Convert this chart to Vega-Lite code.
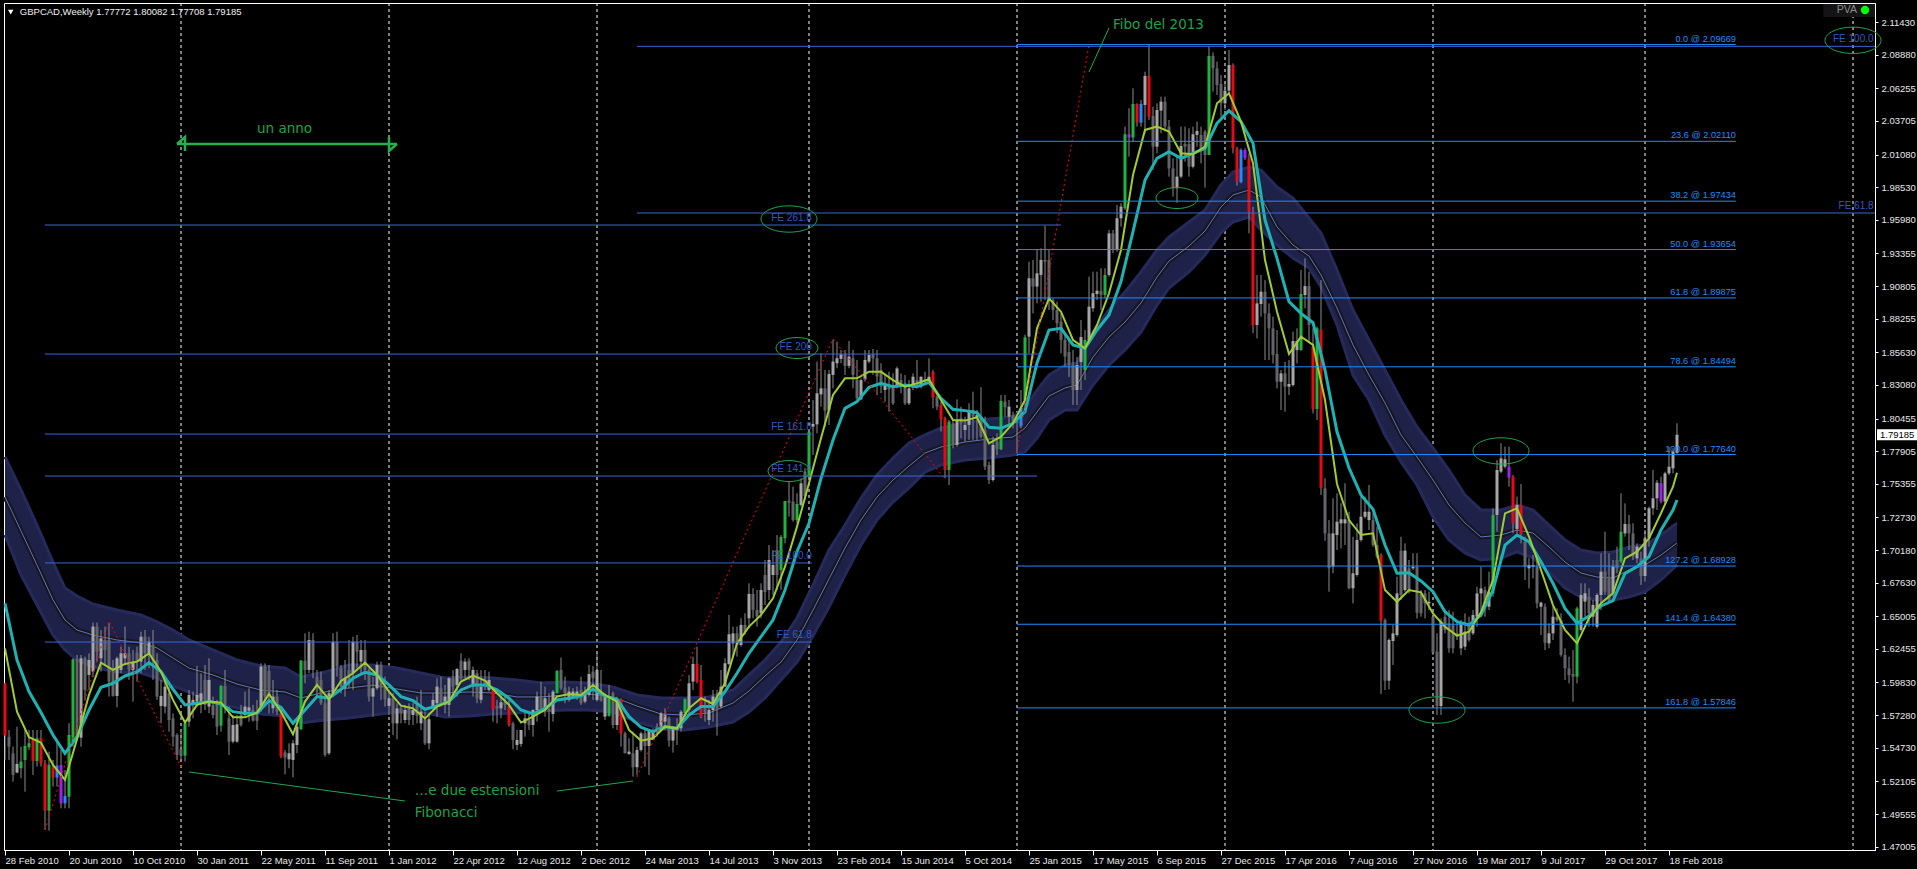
{"$schema":"https://vega.github.io/schema/vega-lite/v6.json","width":1871,"height":847,"autosize":"none","padding":{"left":4,"top":3,"right":42,"bottom":19},"background":"#000000","config":{"view":{"stroke":"#ffffff","strokeWidth":1}},
"datasets":{
"candles":[
{"t":"2010-02-28","k":"r","o":1.5977,"h":1.5982,"l":1.5378,"c":1.5568},{"t":"2010-03-07","k":"dn","o":1.556,"h":1.5612,"l":1.5378,"c":1.5482},{"t":"2010-03-14","k":"dn","o":1.543,"h":1.5482,"l":1.5209,"c":1.5261},{"t":"2010-03-21","k":"up","o":1.5279,"h":1.5638,"l":1.5274,"c":1.5347},{"t":"2010-03-28","k":"g","o":1.5313,"h":1.5482,"l":1.5235,"c":1.5365},{"t":"2010-04-04","k":"g","o":1.5378,"h":1.5625,"l":1.513,"c":1.5487},{"t":"2010-04-11","k":"g","o":1.5477,"h":1.5612,"l":1.5456,"c":1.5508},{"t":"2010-04-18","k":"r","o":1.5534,"h":1.5612,"l":1.5261,"c":1.537},{"t":"2010-04-25","k":"g","o":1.537,"h":1.5612,"l":1.5326,"c":1.5547},{"t":"2010-05-02","k":"r","o":1.5547,"h":1.5612,"l":1.5326,"c":1.5352},{"t":"2010-05-09","k":"r","o":1.5352,"h":1.5378,"l":1.4831,"c":1.4982},{"t":"2010-05-16","k":"g","o":1.4982,"h":1.5443,"l":1.4826,"c":1.5339},{"t":"2010-05-23","k":"r","o":1.5326,"h":1.5378,"l":1.517,"c":1.524},{"t":"2010-05-30","k":"b","o":1.5334,"h":1.5521,"l":1.517,"c":1.524},{"t":"2010-06-06","k":"p","o":1.5339,"h":1.5456,"l":1.5,"c":1.5039},{"t":"2010-06-13","k":"b","o":1.5097,"h":1.53,"l":1.5,"c":1.5039},{"t":"2010-06-20","k":"g","o":1.5091,"h":1.5664,"l":1.5,"c":1.5573},{"t":"2010-06-27","k":"g","o":1.5508,"h":1.6172,"l":1.5482,"c":1.6164},{"t":"2010-07-04","k":"dn","o":1.6167,"h":1.6198,"l":1.5534,"c":1.556},{"t":"2010-07-11","k":"up","o":1.5552,"h":1.6198,"l":1.5482,"c":1.6172},{"t":"2010-07-18","k":"dn","o":1.6172,"h":1.6185,"l":1.5847,"c":1.5925},{"t":"2010-07-25","k":"up","o":1.6042,"h":1.6211,"l":1.5925,"c":1.6159},{"t":"2010-08-01","k":"up","o":1.6068,"h":1.6451,"l":1.6024,"c":1.642},{"t":"2010-08-08","k":"dn","o":1.642,"h":1.6451,"l":1.6146,"c":1.6224},{"t":"2010-08-15","k":"up","o":1.6172,"h":1.6393,"l":1.6068,"c":1.6328},{"t":"2010-08-22","k":"dn","o":1.6315,"h":1.642,"l":1.6112,"c":1.6237},{"t":"2010-08-29","k":"dn","o":1.6315,"h":1.6446,"l":1.5873,"c":1.599},{"t":"2010-09-05","k":"dn","o":1.6081,"h":1.6159,"l":1.5873,"c":1.5878},{"t":"2010-09-12","k":"up","o":1.5878,"h":1.6185,"l":1.5789,"c":1.6172},{"t":"2010-09-19","k":"up","o":1.6081,"h":1.6263,"l":1.6055,"c":1.6211},{"t":"2010-09-26","k":"up","o":1.6172,"h":1.642,"l":1.612,"c":1.6211},{"t":"2010-10-03","k":"dn","o":1.6211,"h":1.6263,"l":1.6003,"c":1.6081},{"t":"2010-10-10","k":"up","o":1.6081,"h":1.6237,"l":1.5834,"c":1.6146},{"t":"2010-10-17","k":"dn","o":1.6216,"h":1.6263,"l":1.599,"c":1.6146},{"t":"2010-10-24","k":"up","o":1.6146,"h":1.638,"l":1.6055,"c":1.6341},{"t":"2010-10-31","k":"dn","o":1.6341,"h":1.6393,"l":1.6081,"c":1.6211},{"t":"2010-11-07","k":"up","o":1.6198,"h":1.6341,"l":1.6094,"c":1.6302},{"t":"2010-11-14","k":"dn","o":1.6276,"h":1.6393,"l":1.6003,"c":1.6159},{"t":"2010-11-21","k":"dn","o":1.6159,"h":1.6211,"l":1.5847,"c":1.5873},{"t":"2010-11-28","k":"up","o":1.58,"h":1.6003,"l":1.5664,"c":1.5878},{"t":"2010-12-05","k":"up","o":1.5795,"h":1.6016,"l":1.5742,"c":1.5951},{"t":"2010-12-12","k":"dn","o":1.5899,"h":1.5951,"l":1.5599,"c":1.569},{"t":"2010-12-19","k":"dn","o":1.5703,"h":1.5742,"l":1.5482,"c":1.556},{"t":"2010-12-26","k":"dn","o":1.5573,"h":1.5586,"l":1.5378,"c":1.5417},{"t":"2011-01-02","k":"dn","o":1.5461,"h":1.5599,"l":1.5365,"c":1.5412},{"t":"2011-01-09","k":"g","o":1.5412,"h":1.5677,"l":1.5365,"c":1.5664},{"t":"2011-01-16","k":"up","o":1.5677,"h":1.5925,"l":1.5638,"c":1.5886},{"t":"2011-01-23","k":"up","o":1.5821,"h":1.5912,"l":1.5703,"c":1.5847},{"t":"2011-01-30","k":"up","o":1.5834,"h":1.6112,"l":1.5795,"c":1.5886},{"t":"2011-02-06","k":"up","o":1.5834,"h":1.6055,"l":1.5742,"c":1.5899},{"t":"2011-02-13","k":"dn","o":1.6003,"h":1.612,"l":1.5768,"c":1.5808},{"t":"2011-02-20","k":"up","o":1.5795,"h":1.6172,"l":1.5742,"c":1.6003},{"t":"2011-02-27","k":"dn","o":1.5808,"h":1.5873,"l":1.5703,"c":1.5729},{"t":"2011-03-06","k":"dn","o":1.5821,"h":1.5847,"l":1.5573,"c":1.5638},{"t":"2011-03-13","k":"g","o":1.5646,"h":1.5964,"l":1.5599,"c":1.5956},{"t":"2011-03-20","k":"dn","o":1.5956,"h":1.6081,"l":1.5742,"c":1.5808},{"t":"2011-03-27","k":"dn","o":1.5703,"h":1.5795,"l":1.5417,"c":1.5521},{"t":"2011-04-03","k":"up","o":1.5521,"h":1.5729,"l":1.5508,"c":1.5651},{"t":"2011-04-10","k":"up","o":1.5521,"h":1.5729,"l":1.5513,"c":1.5656},{"t":"2011-04-17","k":"dn","o":1.5729,"h":1.5808,"l":1.5638,"c":1.5651},{"t":"2011-04-24","k":"up","o":1.5729,"h":1.5912,"l":1.5716,"c":1.5795},{"t":"2011-05-01","k":"up","o":1.5763,"h":1.5938,"l":1.5677,"c":1.5789},{"t":"2011-05-08","k":"dn","o":1.5768,"h":1.5808,"l":1.5677,"c":1.5685},{"t":"2011-05-15","k":"dn","o":1.5729,"h":1.5847,"l":1.5612,"c":1.5683},{"t":"2011-05-22","k":"up","o":1.5795,"h":1.6133,"l":1.5755,"c":1.6107},{"t":"2011-05-29","k":"dn","o":1.6107,"h":1.6133,"l":1.5795,"c":1.5873},{"t":"2011-06-05","k":"dn","o":1.6073,"h":1.612,"l":1.5742,"c":1.5886},{"t":"2011-06-12","k":"up","o":1.5782,"h":1.6003,"l":1.5742,"c":1.5873},{"t":"2011-06-19","k":"dn","o":1.5873,"h":1.5925,"l":1.5729,"c":1.5755},{"t":"2011-06-26","k":"r","o":1.5742,"h":1.5768,"l":1.5391,"c":1.5404},{"t":"2011-07-03","k":"dn","o":1.5438,"h":1.5456,"l":1.5266,"c":1.5396},{"t":"2011-07-10","k":"up","o":1.5383,"h":1.5508,"l":1.5313,"c":1.543},{"t":"2011-07-17","k":"up","o":1.5378,"h":1.5534,"l":1.5242,"c":1.5508},{"t":"2011-07-24","k":"up","o":1.5495,"h":1.5664,"l":1.543,"c":1.5638},{"t":"2011-07-31","k":"g","o":1.5617,"h":1.6159,"l":1.5612,"c":1.6154},{"t":"2011-08-07","k":"dn","o":1.6154,"h":1.6367,"l":1.5977,"c":1.6081},{"t":"2011-08-14","k":"up","o":1.6081,"h":1.638,"l":1.6055,"c":1.6315},{"t":"2011-08-21","k":"dn","o":1.6315,"h":1.6367,"l":1.6016,"c":1.6081},{"t":"2011-08-28","k":"dn","o":1.6029,"h":1.6081,"l":1.5873,"c":1.5964},{"t":"2011-09-04","k":"dn","o":1.6003,"h":1.6068,"l":1.5808,"c":1.5821},{"t":"2011-09-11","k":"dn","o":1.5821,"h":1.5873,"l":1.5404,"c":1.5417},{"t":"2011-09-18","k":"up","o":1.543,"h":1.5925,"l":1.5417,"c":1.5899},{"t":"2011-09-25","k":"up","o":1.5899,"h":1.6367,"l":1.5873,"c":1.6302},{"t":"2011-10-02","k":"dn","o":1.6302,"h":1.638,"l":1.6029,"c":1.6107},{"t":"2011-10-09","k":"dn","o":1.6094,"h":1.612,"l":1.5899,"c":1.5951},{"t":"2011-10-16","k":"up","o":1.5938,"h":1.6159,"l":1.5873,"c":1.6016},{"t":"2011-10-23","k":"dn","o":1.6081,"h":1.6315,"l":1.5938,"c":1.5977},{"t":"2011-10-30","k":"up","o":1.6055,"h":1.6341,"l":1.5925,"c":1.6302},{"t":"2011-11-06","k":"dn","o":1.6302,"h":1.6354,"l":1.6094,"c":1.6224},{"t":"2011-11-13","k":"up","o":1.6146,"h":1.6315,"l":1.6055,"c":1.6237},{"t":"2011-11-20","k":"dn","o":1.6237,"h":1.6315,"l":1.6003,"c":1.6081},{"t":"2011-11-27","k":"dn","o":1.6081,"h":1.6094,"l":1.5834,"c":1.5873},{"t":"2011-12-04","k":"up","o":1.5873,"h":1.6029,"l":1.5716,"c":1.5938},{"t":"2011-12-11","k":"up","o":1.5938,"h":1.6146,"l":1.5925,"c":1.612},{"t":"2011-12-18","k":"dn","o":1.612,"h":1.6146,"l":1.5847,"c":1.5938},{"t":"2011-12-25","k":"dn","o":1.5951,"h":1.6029,"l":1.5795,"c":1.5852},{"t":"2012-01-01","k":"up","o":1.58,"h":1.5925,"l":1.5729,"c":1.586},{"t":"2012-01-08","k":"dn","o":1.586,"h":1.5899,"l":1.5573,"c":1.5664},{"t":"2012-01-15","k":"up","o":1.5664,"h":1.5821,"l":1.5539,"c":1.5781},{"t":"2012-01-22","k":"dn","o":1.5781,"h":1.5795,"l":1.5664,"c":1.5742},{"t":"2012-01-29","k":"up","o":1.569,"h":1.5808,"l":1.5664,"c":1.5768},{"t":"2012-02-05","k":"dn","o":1.5795,"h":1.5821,"l":1.5651,"c":1.569},{"t":"2012-02-12","k":"up","o":1.5729,"h":1.5821,"l":1.5651,"c":1.5768},{"t":"2012-02-19","k":"dn","o":1.5808,"h":1.5873,"l":1.5664,"c":1.5722},
{"t":"2012-02-26","k":"up","o":1.5664,"h":1.5925,"l":1.5612,"c":1.5755},{"t":"2012-03-04","k":"dn","o":1.5696,"h":1.5755,"l":1.5495,"c":1.5508},{"t":"2012-03-11","k":"up","o":1.5508,"h":1.5742,"l":1.5461,"c":1.5696},{"t":"2012-03-18","k":"up","o":1.5795,"h":1.5899,"l":1.5755,"c":1.5847},{"t":"2012-03-25","k":"up","o":1.5821,"h":1.6016,"l":1.5716,"c":1.5951},{"t":"2012-04-01","k":"dn","o":1.5938,"h":1.6029,"l":1.5795,"c":1.5808},{"t":"2012-04-08","k":"up","o":1.5808,"h":1.5964,"l":1.5742,"c":1.5873},{"t":"2012-04-15","k":"up","o":1.5808,"h":1.6024,"l":1.5716,"c":1.6016},{"t":"2012-04-22","k":"dn","o":1.6016,"h":1.6081,"l":1.5873,"c":1.5951},{"t":"2012-04-29","k":"up","o":1.5964,"h":1.6094,"l":1.5873,"c":1.6089},{"t":"2012-05-06","k":"dn","o":1.6154,"h":1.6211,"l":1.6003,"c":1.6016},{"t":"2012-05-13","k":"up","o":1.6081,"h":1.6172,"l":1.6016,"c":1.6146},{"t":"2012-05-20","k":"dn","o":1.6154,"h":1.6172,"l":1.6003,"c":1.6081},{"t":"2012-05-27","k":"up","o":1.5951,"h":1.6107,"l":1.5873,"c":1.6081},{"t":"2012-06-03","k":"dn","o":1.6055,"h":1.6081,"l":1.5821,"c":1.586},{"t":"2012-06-10","k":"up","o":1.5847,"h":1.6081,"l":1.5821,"c":1.5951},{"t":"2012-06-17","k":"dn","o":1.6003,"h":1.6081,"l":1.5925,"c":1.5951},{"t":"2012-06-24","k":"up","o":1.5925,"h":1.6068,"l":1.5912,"c":1.6003},{"t":"2012-07-01","k":"r","o":1.5925,"h":1.5938,"l":1.5677,"c":1.5774},{"t":"2012-07-08","k":"dn","o":1.58,"h":1.5847,"l":1.5664,"c":1.5779},{"t":"2012-07-15","k":"up","o":1.5781,"h":1.5899,"l":1.5703,"c":1.5828},{"t":"2012-07-22","k":"dn","o":1.5828,"h":1.5873,"l":1.5768,"c":1.5808},{"t":"2012-07-29","k":"r","o":1.5795,"h":1.5873,"l":1.5638,"c":1.5651},{"t":"2012-08-05","k":"dn","o":1.5664,"h":1.5677,"l":1.5461,"c":1.5534},{"t":"2012-08-12","k":"up","o":1.5495,"h":1.5612,"l":1.5456,"c":1.5534},{"t":"2012-08-19","k":"up","o":1.5503,"h":1.5612,"l":1.5482,"c":1.5612},{"t":"2012-08-26","k":"up","o":1.5664,"h":1.5768,"l":1.556,"c":1.5703},{"t":"2012-09-02","k":"dn","o":1.569,"h":1.5742,"l":1.5612,"c":1.5651},{"t":"2012-09-09","k":"up","o":1.5651,"h":1.5774,"l":1.556,"c":1.5768},{"t":"2012-09-16","k":"up","o":1.5768,"h":1.5912,"l":1.5677,"c":1.5873},{"t":"2012-09-23","k":"dn","o":1.5873,"h":1.599,"l":1.5768,"c":1.5781},{"t":"2012-09-30","k":"up","o":1.5781,"h":1.5951,"l":1.5716,"c":1.586},{"t":"2012-10-07","k":"dn","o":1.5776,"h":1.5899,"l":1.5599,"c":1.5755},{"t":"2012-10-14","k":"up","o":1.5737,"h":1.5925,"l":1.5677,"c":1.5912},{"t":"2012-10-21","k":"g","o":1.5899,"h":1.6081,"l":1.5899,"c":1.6073},{"t":"2012-10-28","k":"dn","o":1.6081,"h":1.6177,"l":1.5925,"c":1.5938},{"t":"2012-11-04","k":"dn","o":1.5943,"h":1.6029,"l":1.5821,"c":1.5899},{"t":"2012-11-11","k":"up","o":1.5847,"h":1.5951,"l":1.5834,"c":1.5912},{"t":"2012-11-18","k":"up","o":1.5873,"h":1.5938,"l":1.586,"c":1.5912},{"t":"2012-11-25","k":"up","o":1.586,"h":1.5951,"l":1.5847,"c":1.5912},{"t":"2012-12-02","k":"dn","o":1.5925,"h":1.6029,"l":1.5808,"c":1.5821},{"t":"2012-12-09","k":"up","o":1.5834,"h":1.5951,"l":1.5821,"c":1.5886},{"t":"2012-12-16","k":"up","o":1.5886,"h":1.612,"l":1.5873,"c":1.605},{"t":"2012-12-23","k":"dn","o":1.6068,"h":1.6112,"l":1.5847,"c":1.6016},{"t":"2012-12-30","k":"up","o":1.5847,"h":1.6211,"l":1.5834,"c":1.6081},{"t":"2013-01-06","k":"dn","o":1.5899,"h":1.6081,"l":1.5834,"c":1.5841},{"t":"2013-01-13","k":"up","o":1.5716,"h":1.5899,"l":1.569,"c":1.5886},{"t":"2013-01-20","k":"g","o":1.5722,"h":1.5964,"l":1.5716,"c":1.586},{"t":"2013-01-27","k":"dn","o":1.5899,"h":1.5912,"l":1.5625,"c":1.5651},{"t":"2013-02-03","k":"up","o":1.5651,"h":1.5873,"l":1.5612,"c":1.5847},{"t":"2013-02-10","k":"r","o":1.5852,"h":1.586,"l":1.5482,"c":1.5586},{"t":"2013-02-17","k":"dn","o":1.5586,"h":1.5599,"l":1.543,"c":1.543},{"t":"2013-02-24","k":"up","o":1.5425,"h":1.5547,"l":1.5417,"c":1.5443},{"t":"2013-03-03","k":"dn","o":1.543,"h":1.5599,"l":1.5248,"c":1.5321},{"t":"2013-03-10","k":"up","o":1.5321,"h":1.5482,"l":1.5261,"c":1.5456},{"t":"2013-03-17","k":"up","o":1.5456,"h":1.5599,"l":1.5443,"c":1.5586},{"t":"2013-03-24","k":"dn","o":1.5586,"h":1.5612,"l":1.5326,"c":1.5487},{"t":"2013-03-31","k":"up","o":1.5487,"h":1.5612,"l":1.5261,"c":1.5612},{"t":"2013-04-07","k":"up","o":1.5534,"h":1.5625,"l":1.5534,"c":1.5599},{"t":"2013-04-14","k":"dn","o":1.5638,"h":1.5664,"l":1.5560,"c":1.5599},{"t":"2013-04-21","k":"up","o":1.5638,"h":1.5755,"l":1.5612,"c":1.5742},{"t":"2013-04-28","k":"up","o":1.5677,"h":1.5781,"l":1.5612,"c":1.5729},{"t":"2013-05-05","k":"dn","o":1.5703,"h":1.5716,"l":1.5482,"c":1.5529},{"t":"2013-05-12","k":"up","o":1.5529,"h":1.5638,"l":1.5435,"c":1.5625},{"t":"2013-05-19","k":"up","o":1.5612,"h":1.5703,"l":1.5495,"c":1.5625},{"t":"2013-05-26","k":"up","o":1.5625,"h":1.5768,"l":1.5599,"c":1.5755},{"t":"2013-06-02","k":"g","o":1.5742,"h":1.586,"l":1.5716,"c":1.5852},{"t":"2013-06-09","k":"up","o":1.5768,"h":1.6042,"l":1.5729,"c":1.5977},{"t":"2013-06-16","k":"up","o":1.599,"h":1.6185,"l":1.5925,"c":1.6128},{"t":"2013-06-23","k":"r","o":1.6128,"h":1.6263,"l":1.5977,"c":1.599},{"t":"2013-06-30","k":"r","o":1.6003,"h":1.612,"l":1.5703,"c":1.5716},{"t":"2013-07-07","k":"dn","o":1.5781,"h":1.5873,"l":1.5677,"c":1.5748},{"t":"2013-07-14","k":"up","o":1.569,"h":1.5847,"l":1.5651,"c":1.5768},{"t":"2013-07-21","k":"up","o":1.5768,"h":1.5925,"l":1.5677,"c":1.5873},{"t":"2013-07-28","k":"dn","o":1.5873,"h":1.5925,"l":1.5568,"c":1.5768},{"t":"2013-08-04","k":"up","o":1.5795,"h":1.6081,"l":1.5781,"c":1.5951},{"t":"2013-08-11","k":"up","o":1.5951,"h":1.6172,"l":1.5951,"c":1.6133},{"t":"2013-08-18","k":"up","o":1.6128,"h":1.6511,"l":1.612,"c":1.636},{"t":"2013-08-25","k":"up","o":1.6289,"h":1.642,"l":1.6185,"c":1.6367},{"t":"2013-09-01","k":"dn","o":1.6367,"h":1.642,"l":1.6185,"c":1.6276},{"t":"2013-09-08","k":"up","o":1.6276,"h":1.6485,"l":1.6263,"c":1.6433},{"t":"2013-09-15","k":"dn","o":1.6433,"h":1.6524,"l":1.6355,"c":1.638},{"t":"2013-09-22","k":"up","o":1.6485,"h":1.6758,"l":1.6406,"c":1.6675},{"t":"2013-09-29","k":"dn","o":1.6675,"h":1.6719,"l":1.6485,"c":1.655},{"t":"2013-10-06","k":"dn","o":1.655,"h":1.6706,"l":1.642,"c":1.6498},{"t":"2013-10-13","k":"up","o":1.6524,"h":1.6758,"l":1.6485,"c":1.6706},{"t":"2013-10-20","k":"dn","o":1.6823,"h":1.694,"l":1.6588,"c":1.669},{"t":"2013-10-27","k":"up","o":1.6706,"h":1.7057,"l":1.6628,"c":1.694},{"t":"2013-11-03","k":"up","o":1.6823,"h":1.7018,"l":1.6667,"c":1.6901},{"t":"2013-11-10","k":"dn","o":1.7018,"h":1.7135,"l":1.6706,"c":1.6823},{"t":"2013-11-17","k":"g","o":1.6862,"h":1.7135,"l":1.6706,"c":1.712},{"t":"2013-11-24","k":"g","o":1.711,"h":1.7401,"l":1.707,"c":1.7401},{"t":"2013-12-01","k":"dn","o":1.7404,"h":1.7552,"l":1.7279,"c":1.7388},{"t":"2013-12-08","k":"dn","o":1.7396,"h":1.7513,"l":1.724,"c":1.7253},{"t":"2013-12-15","k":"g","o":1.7253,"h":1.7461,"l":1.7227,"c":1.7378},{"t":"2013-12-22","k":"up","o":1.737,"h":1.7578,"l":1.7357,"c":1.7539},{"t":"2013-12-29","k":"dn","o":1.763,"h":1.7656,"l":1.7409,"c":1.744},{"t":"2014-01-05","k":"g","o":1.7591,"h":1.7956,"l":1.7565,"c":1.7943},{"t":"2014-01-12","k":"up","o":1.7982,"h":1.819,"l":1.7761,"c":1.8003},{"t":"2014-01-19","k":"up","o":1.8,"h":1.849,"l":1.793,"c":1.8242},{"t":"2014-01-26","k":"up","o":1.8234,"h":1.8555,"l":1.8138,"c":1.8281},{"t":"2014-02-02","k":"dn","o":1.8281,"h":1.8425,"l":1.7982,"c":1.8107},{"t":"2014-02-09","k":"up","o":1.8112,"h":1.8425,"l":1.7995,"c":1.8393},{"t":"2014-02-16","k":"up","o":1.8386,"h":1.8659,"l":1.8281,"c":1.849},{"t":"2014-02-23","k":"up","o":1.8477,"h":1.8646,"l":1.8438,"c":1.8516},{"t":"2014-03-02","k":"up","o":1.8511,"h":1.8581,"l":1.8477,"c":1.8547},{"t":"2014-03-09","k":"dn","o":1.8547,"h":1.8581,"l":1.8386,"c":1.8456},{"t":"2014-03-16","k":"up","o":1.8456,"h":1.8651,"l":1.8438,"c":1.8529},{"t":"2014-03-23","k":"dn","o":1.8516,"h":1.8581,"l":1.8281,"c":1.8386},{"t":"2014-03-30","k":"dn","o":1.8346,"h":1.8503,"l":1.819,"c":1.8203},{"t":"2014-04-06","k":"up","o":1.8195,"h":1.8359,"l":1.819,"c":1.8346},{"t":"2014-04-13","k":"up","o":1.8352,"h":1.8581,"l":1.8333,"c":1.8503},{"t":"2014-04-20","k":"up","o":1.849,"h":1.8581,"l":1.8477,"c":1.8542},{"t":"2014-04-27","k":"dn","o":1.8547,"h":1.8589,"l":1.8386,"c":1.8516},{"t":"2014-05-04","k":"dn","o":1.8516,"h":1.8581,"l":1.8229,"c":1.8373},{"t":"2014-05-11","k":"dn","o":1.8425,"h":1.8477,"l":1.8242,"c":1.8294},{"t":"2014-05-18","k":"up","o":1.8268,"h":1.8398,"l":1.8177,"c":1.8307},{"t":"2014-05-25","k":"dn","o":1.8294,"h":1.8411,"l":1.8099,"c":1.8273},{"t":"2014-06-01","k":"dn","o":1.8307,"h":1.8398,"l":1.8151,"c":1.8164},{"t":"2014-06-08","k":"up","o":1.8294,"h":1.8451,"l":1.8281,"c":1.8437},{"t":"2014-06-15","k":"dn","o":1.8346,"h":1.8398,"l":1.8242,"c":1.8289},{"t":"2014-06-22","k":"dn","o":1.8294,"h":1.8385,"l":1.8151,"c":1.8164},{"t":"2014-06-29","k":"up","o":1.8164,"h":1.8346,"l":1.8151,"c":1.8281},{"t":"2014-07-06","k":"up","o":1.8289,"h":1.8398,"l":1.8268,"c":1.8372},{"t":"2014-07-13","k":"dn","o":1.8346,"h":1.8503,"l":1.8281,"c":1.8307},{"t":"2014-07-20","k":"up","o":1.8294,"h":1.8372,"l":1.8281,"c":1.8372},{"t":"2014-07-27","k":"dn","o":1.8352,"h":1.8411,"l":1.8307,"c":1.8333},{"t":"2014-08-03","k":"up","o":1.8346,"h":1.8516,"l":1.8333,"c":1.8372},{"t":"2014-08-10","k":"r","o":1.8411,"h":1.8424,"l":1.8125,"c":1.8208},{"t":"2014-08-17","k":"dn","o":1.8216,"h":1.8229,"l":1.8112,"c":1.8138},{"t":"2014-08-24","k":"r","o":1.8151,"h":1.8177,"l":1.7943,"c":1.8042},{"t":"2014-08-31","k":"r","o":1.8047,"h":1.806,"l":1.7578,"c":1.7643},{"t":"2014-09-07","k":"g","o":1.7643,"h":1.8034,"l":1.7526,"c":1.8021},{"t":"2014-09-14","k":"dn","o":1.8008,"h":1.8034,"l":1.7813,"c":1.7839},{"t":"2014-09-21","k":"up","o":1.7839,"h":1.8195,"l":1.7826,"c":1.8034},{"t":"2014-09-28","k":"dn","o":1.8047,"h":1.8138,"l":1.7891,"c":1.8008},{"t":"2014-10-05","k":"up","o":1.7956,"h":1.8060,"l":1.7865,"c":1.7995},{"t":"2014-10-12","k":"up","o":1.7995,"h":1.8164,"l":1.7878,"c":1.8112},{"t":"2014-10-19","k":"dn","o":1.8112,"h":1.8255,"l":1.7878,"c":1.806},{"t":"2014-10-26","k":"up","o":1.8047,"h":1.8112,"l":1.7878,"c":1.8073},{"t":"2014-11-02","k":"dn","o":1.8060,"h":1.8289,"l":1.789,"c":1.7904},{"t":"2014-11-09","k":"dn","o":1.7956,"h":1.806,"l":1.7643,"c":1.7669},{"t":"2014-11-16","k":"dn","o":1.7682,"h":1.7708,"l":1.7534,"c":1.7565},{"t":"2014-11-23","k":"up","o":1.7565,"h":1.7904,"l":1.7552,"c":1.7839},{"t":"2014-11-30","k":"dn","o":1.7865,"h":1.793,"l":1.776,"c":1.7805},{"t":"2014-12-07","k":"g","o":1.7805,"h":1.8229,"l":1.7799,"c":1.8182},{"t":"2014-12-14","k":"dn","o":1.8177,"h":1.8229,"l":1.8060,"c":1.8133},{"t":"2014-12-21","k":"up","o":1.806,"h":1.819,"l":1.7982,"c":1.8138},{"t":"2014-12-28","k":"dn","o":1.8073,"h":1.8099,"l":1.7969,"c":1.8021},{"t":"2015-01-04","k":"dn","o":1.8029,"h":1.8047,"l":1.7773,"c":1.8008},{"t":"2015-01-11","k":"b","o":1.8125,"h":1.8268,"l":1.7969,"c":1.7982},{"t":"2015-01-18","k":"g","o":1.819,"h":1.87,"l":1.8086,"c":1.868},
{"t":"2015-01-25","k":"up","o":1.8685,"h":1.9271,"l":1.8555,"c":1.9141},{"t":"2015-02-01","k":"dn","o":1.9141,"h":1.9284,"l":1.8867,"c":1.9076},{"t":"2015-02-08","k":"up","o":1.9076,"h":1.9362,"l":1.8945,"c":1.918},{"t":"2015-02-15","k":"up","o":1.9167,"h":1.9375,"l":1.8958,"c":1.9284},{"t":"2015-02-22","k":"dn","o":1.9284,"h":1.9552,"l":1.8971,"c":1.9271},{"t":"2015-03-01","k":"dn","o":1.9284,"h":1.9362,"l":1.8893,"c":1.8971},{"t":"2015-03-08","k":"dn","o":1.8971,"h":1.8984,"l":1.8815,"c":1.8893},{"t":"2015-03-15","k":"dn","o":1.8893,"h":1.8958,"l":1.8711,"c":1.8789},{"t":"2015-03-22","k":"dn","o":1.8802,"h":1.8867,"l":1.8555,"c":1.8659},{"t":"2015-03-29","k":"dn","o":1.8659,"h":1.8711,"l":1.8451,"c":1.8529},{"t":"2015-04-05","k":"dn","o":1.8565,"h":1.8659,"l":1.837,"c":1.8463},{"t":"2015-04-12","k":"dn","o":1.8463,"h":1.8581,"l":1.8151,"c":1.8268},{"t":"2015-04-19","k":"up","o":1.8268,"h":1.8526,"l":1.8151,"c":1.8463},{"t":"2015-04-26","k":"up","o":1.8487,"h":1.8815,"l":1.8268,"c":1.8682},{"t":"2015-05-03","k":"g","o":1.8424,"h":1.8737,"l":1.8346,"c":1.8659},{"t":"2015-05-10","k":"up","o":1.8659,"h":1.9154,"l":1.8633,"c":1.8919},{"t":"2015-05-17","k":"up","o":1.8906,"h":1.9193,"l":1.888,"c":1.9024},{"t":"2015-05-24","k":"up","o":1.9018,"h":1.9193,"l":1.8971,"c":1.9044},{"t":"2015-05-31","k":"dn","o":1.9044,"h":1.9219,"l":1.8893,"c":1.9011},{"t":"2015-06-07","k":"g","o":1.9011,"h":1.9219,"l":1.8984,"c":1.9167},{"t":"2015-06-14","k":"up","o":1.9167,"h":1.9518,"l":1.9154,"c":1.9492},{"t":"2015-06-21","k":"dn","o":1.9492,"h":1.9518,"l":1.9336,"c":1.9362},{"t":"2015-06-28","k":"up","o":1.9362,"h":1.9714,"l":1.9349,"c":1.961},{"t":"2015-07-05","k":"up","o":1.961,"h":1.9727,"l":1.9544,"c":1.9701},{"t":"2015-07-12","k":"g","o":1.9688,"h":2.0326,"l":1.9675,"c":2.0266},{"t":"2015-07-19","k":"p","o":2.0266,"h":2.0469,"l":2.0091,"c":2.024},{"t":"2015-07-26","k":"g","o":2.024,"h":2.0625,"l":2.0208,"c":2.0503},{"t":"2015-08-02","k":"r","o":2.0503,"h":2.0508,"l":2.0326,"c":2.0357},{"t":"2015-08-09","k":"b","o":2.0503,"h":2.0534,"l":2.0326,"c":2.0357},{"t":"2015-08-16","k":"up","o":2.0495,"h":2.0755,"l":2.0274,"c":2.0722},{"t":"2015-08-23","k":"r","o":2.0722,"h":2.0964,"l":2.0378,"c":2.0404},{"t":"2015-08-30","k":"dn","o":2.0409,"h":2.0482,"l":1.9987,"c":2.0169},{"t":"2015-09-06","k":"up","o":2.0169,"h":2.0508,"l":2.0117,"c":2.0456},{"t":"2015-09-13","k":"up","o":2.0451,"h":2.056,"l":2.0274,"c":2.0521},{"t":"2015-09-20","k":"dn","o":2.0521,"h":2.056,"l":2.0287,"c":2.0326},{"t":"2015-09-27","k":"dn","o":2.0326,"h":2.0378,"l":1.9935,"c":1.9999},{"t":"2015-10-04","k":"dn","o":1.9999,"h":2.0078,"l":1.9779,"c":1.9844},{"t":"2015-10-11","k":"up","o":1.9844,"h":2.0091,"l":1.9732,"c":1.9935},{"t":"2015-10-18","k":"up","o":1.9935,"h":2.0326,"l":1.9922,"c":2.0175},{"t":"2015-10-25","k":"dn","o":2.019,"h":2.0326,"l":2.0052,"c":2.0169},{"t":"2015-11-01","k":"dn","o":2.019,"h":2.0313,"l":1.9935,"c":2.0013},{"t":"2015-11-08","k":"up","o":2.0013,"h":2.0326,"l":2.0,"c":2.0266},{"t":"2015-11-15","k":"up","o":2.0261,"h":2.0365,"l":2.0169,"c":2.0292},{"t":"2015-11-22","k":"dn","o":2.0261,"h":2.0326,"l":2.0039,"c":2.0143},{"t":"2015-11-29","k":"dn","o":2.0287,"h":2.03,"l":1.9849,"c":2.0104},{"t":"2015-12-06","k":"g","o":2.0104,"h":2.0951,"l":2.0104,"c":2.0878},{"t":"2015-12-13","k":"dn","o":2.0878,"h":2.0906,"l":2.0599,"c":2.0781},{"t":"2015-12-20","k":"dn","o":2.0781,"h":2.0833,"l":2.0573,"c":2.0651},{"t":"2015-12-27","k":"dn","o":2.0659,"h":2.0729,"l":2.0404,"c":2.0508},{"t":"2016-01-03","k":"up","o":2.0508,"h":2.0677,"l":2.0456,"c":2.0607},{"t":"2016-01-10","k":"up","o":2.0607,"h":2.0925,"l":2.0586,"c":2.0807},{"t":"2016-01-17","k":"r","o":2.0807,"h":2.082,"l":2.0117,"c":2.0156},{"t":"2016-01-24","k":"r","o":2.0156,"h":2.0169,"l":1.9865,"c":1.9896},{"t":"2016-01-31","k":"b","o":2.0143,"h":2.0156,"l":1.9883,"c":1.9891},{"t":"2016-02-07","k":"p","o":2.0143,"h":2.0156,"l":2.0065,"c":2.0078},{"t":"2016-02-14","k":"r","o":2.0078,"h":2.0117,"l":1.9492,"c":1.9662},{"t":"2016-02-21","k":"r","o":1.9659,"h":1.97,"l":1.8711,"c":1.8776},{"t":"2016-02-28","k":"up","o":1.8776,"h":1.9166,"l":1.8672,"c":1.8945},{"t":"2016-03-06","k":"up","o":1.894,"h":1.9166,"l":1.8841,"c":1.9036},{"t":"2016-03-13","k":"dn","o":1.9036,"h":1.9127,"l":1.8502,"c":1.8867},{"t":"2016-03-20","k":"dn","o":1.8867,"h":1.8945,"l":1.8502,"c":1.875},{"t":"2016-03-27","k":"dn","o":1.875,"h":1.8841,"l":1.8476,"c":1.8541},{"t":"2016-04-03","k":"dn","o":1.8549,"h":1.8737,"l":1.8281,"c":1.8333},{"t":"2016-04-10","k":"up","o":1.8333,"h":1.8424,"l":1.8112,"c":1.8398},{"t":"2016-04-17","k":"dn","o":1.8398,"h":1.8489,"l":1.8099,"c":1.8294},{"t":"2016-04-24","k":"up","o":1.8294,"h":1.8502,"l":1.8229,"c":1.8315},{"t":"2016-05-01","k":"up","o":1.8307,"h":1.8724,"l":1.8294,"c":1.8651},{"t":"2016-05-08","k":"up","o":1.858,"h":1.875,"l":1.8476,"c":1.8651},{"t":"2016-05-15","k":"g","o":1.858,"h":1.9205,"l":1.8575,"c":1.9018},{"t":"2016-05-22","k":"up","o":1.901,"h":1.9297,"l":1.8906,"c":1.908},{"t":"2016-05-29","k":"dn","o":1.908,"h":1.9192,"l":1.8633,"c":1.8776},{"t":"2016-06-05","k":"r","o":1.8607,"h":1.875,"l":1.8086,"c":1.812},{"t":"2016-06-12","k":"g","o":1.812,"h":1.8763,"l":1.8034,"c":1.875},{"t":"2016-06-19","k":"r","o":1.8737,"h":1.9127,"l":1.7448,"c":1.7503},{"t":"2016-06-26","k":"dn","o":1.75,"h":1.7578,"l":1.7091,"c":1.7148},{"t":"2016-07-03","k":"dn","o":1.7148,"h":1.7252,"l":1.6692,"c":1.6875},{"t":"2016-07-10","k":"up","o":1.6888,"h":1.7422,"l":1.6836,"c":1.7148},{"t":"2016-07-17","k":"up","o":1.7135,"h":1.7461,"l":1.7018,"c":1.7239},{"t":"2016-07-24","k":"up","o":1.7226,"h":1.7383,"l":1.7031,"c":1.7258},{"t":"2016-07-31","k":"up","o":1.7226,"h":1.7539,"l":1.7057,"c":1.7258},{"t":"2016-08-07","k":"dn","o":1.7252,"h":1.7317,"l":1.6711,"c":1.6719},{"t":"2016-08-14","k":"up","o":1.6719,"h":1.7122,"l":1.6601,"c":1.6836},{"t":"2016-08-21","k":"up","o":1.6823,"h":1.7226,"l":1.681,"c":1.7096},{"t":"2016-08-28","k":"up","o":1.7096,"h":1.7435,"l":1.7083,"c":1.7278},{"t":"2016-09-04","k":"up","o":1.7278,"h":1.7435,"l":1.7265,"c":1.7317},{"t":"2016-09-11","k":"up","o":1.7252,"h":1.7526,"l":1.7174,"c":1.7317},{"t":"2016-09-18","k":"dn","o":1.7252,"h":1.7304,"l":1.7044,"c":1.7057},{"t":"2016-09-25","k":"dn","o":1.7057,"h":1.72,"l":1.6953,"c":1.6966},{"t":"2016-10-02","k":"r","o":1.6979,"h":1.6992,"l":1.5893,"c":1.6466},{"t":"2016-10-09","k":"dn","o":1.6471,"h":1.6484,"l":1.5924,"c":1.5997},{"t":"2016-10-16","k":"up","o":1.5997,"h":1.6328,"l":1.5929,"c":1.6315},{"t":"2016-10-23","k":"up","o":1.6307,"h":1.6432,"l":1.612,"c":1.6367},{"t":"2016-10-30","k":"up","o":1.6354,"h":1.681,"l":1.6341,"c":1.6679},{"t":"2016-11-06","k":"dn","o":1.7013,"h":1.7122,"l":1.6627,"c":1.6666},{"t":"2016-11-13","k":"up","o":1.6705,"h":1.707,"l":1.6692,"c":1.7013},{"t":"2016-11-20","k":"dn","o":1.6875,"h":1.694,"l":1.6679,"c":1.6692},{"t":"2016-11-27","k":"up","o":1.6875,"h":1.6992,"l":1.6862,"c":1.6888},{"t":"2016-12-04","k":"dn","o":1.6888,"h":1.6992,"l":1.6484,"c":1.6528},{"t":"2016-12-11","k":"dn","o":1.6679,"h":1.6705,"l":1.6497,"c":1.6523},{"t":"2016-12-18","k":"dn","o":1.6679,"h":1.6705,"l":1.6484,"c":1.6601},{"t":"2016-12-25","k":"up","o":1.6601,"h":1.6692,"l":1.6549,"c":1.6614},{"t":"2017-01-01","k":"dn","o":1.6497,"h":1.651,"l":1.6198,"c":1.6216},{"t":"2017-01-08","k":"dn","o":1.6224,"h":1.6367,"l":1.5729,"c":1.5799},{"t":"2017-01-15","k":"up","o":1.5799,"h":1.6484,"l":1.5729,"c":1.6458},{"t":"2017-01-22","k":"dn","o":1.6497,"h":1.6549,"l":1.6367,"c":1.6393},{"t":"2017-01-29","k":"dn","o":1.6445,"h":1.6549,"l":1.6216,"c":1.625},{"t":"2017-02-05","k":"dn","o":1.6432,"h":1.6536,"l":1.6211,"c":1.625},{"t":"2017-02-12","k":"dn","o":1.6367,"h":1.6471,"l":1.6315,"c":1.6341},{"t":"2017-02-19","k":"up","o":1.625,"h":1.6471,"l":1.6198,"c":1.6445},{"t":"2017-02-26","k":"up","o":1.6263,"h":1.6523,"l":1.6237,"c":1.638},{"t":"2017-03-05","k":"dn","o":1.6445,"h":1.6497,"l":1.6302,"c":1.6315},{"t":"2017-03-12","k":"up","o":1.6367,"h":1.6549,"l":1.6354,"c":1.651},{"t":"2017-03-19","k":"up","o":1.6497,"h":1.6732,"l":1.6419,"c":1.6679},{"t":"2017-03-26","k":"up","o":1.6679,"h":1.6888,"l":1.6497,"c":1.6718},{"t":"2017-04-02","k":"dn","o":1.6705,"h":1.6732,"l":1.6497,"c":1.6588},{"t":"2017-04-09","k":"up","o":1.6575,"h":1.6849,"l":1.6549,"c":1.6692},{"t":"2017-04-16","k":"g","o":1.6679,"h":1.7344,"l":1.6653,"c":1.7291},{"t":"2017-04-23","k":"up","o":1.7292,"h":1.7721,"l":1.7161,"c":1.7643},{"t":"2017-04-30","k":"up","o":1.763,"h":1.7852,"l":1.7617,"c":1.7734},{"t":"2017-05-07","k":"up","o":1.7669,"h":1.7826,"l":1.7656,"c":1.7727},{"t":"2017-05-14","k":"p","o":1.7669,"h":1.7826,"l":1.7513,"c":1.7583},{"t":"2017-05-21","k":"r","o":1.7591,"h":1.7604,"l":1.7148,"c":1.7227},{"t":"2017-05-28","k":"up","o":1.7182,"h":1.7435,"l":1.7148,"c":1.737},{"t":"2017-06-04","k":"r","o":1.737,"h":1.7534,"l":1.707,"c":1.7141},{"t":"2017-06-11","k":"dn","o":1.7083,"h":1.7122,"l":1.6784,"c":1.6888},{"t":"2017-06-18","k":"up","o":1.6875,"h":1.6953,"l":1.6718,"c":1.6901},{"t":"2017-06-25","k":"up","o":1.6888,"h":1.6979,"l":1.6797,"c":1.6901},{"t":"2017-07-02","k":"dn","o":1.6888,"h":1.6979,"l":1.6562,"c":1.6601},{"t":"2017-07-09","k":"up","o":1.6575,"h":1.6614,"l":1.6354,"c":1.6607},{"t":"2017-07-16","k":"dn","o":1.6575,"h":1.6601,"l":1.6237,"c":1.6294},{"t":"2017-07-23","k":"up","o":1.6289,"h":1.6445,"l":1.625,"c":1.6367},{"t":"2017-07-30","k":"up","o":1.6367,"h":1.6575,"l":1.6315,"c":1.6497},{"t":"2017-08-06","k":"dn","o":1.6497,"h":1.6562,"l":1.6458,"c":1.6471},{"t":"2017-08-13","k":"dn","o":1.6471,"h":1.6523,"l":1.6185,"c":1.6198},{"t":"2017-08-20","k":"dn","o":1.6198,"h":1.625,"l":1.6002,"c":1.6094},{"t":"2017-08-27","k":"dn","o":1.6094,"h":1.6185,"l":1.5976,"c":1.6041},{"t":"2017-09-03","k":"dn","o":1.6049,"h":1.6237,"l":1.5833,"c":1.6028},{"t":"2017-09-10","k":"g","o":1.6028,"h":1.6575,"l":1.5976,"c":1.6562},
{"t":"2017-09-17","k":"up","o":1.6393,"h":1.6758,"l":1.638,"c":1.6667},{"t":"2017-09-24","k":"up","o":1.6615,"h":1.6758,"l":1.6497,"c":1.668},{"t":"2017-10-01","k":"dn","o":1.6654,"h":1.6719,"l":1.6419,"c":1.6523},{"t":"2017-10-08","k":"up","o":1.6497,"h":1.6628,"l":1.6419,"c":1.6589},{"t":"2017-10-15","k":"up","o":1.6419,"h":1.668,"l":1.6406,"c":1.6667},{"t":"2017-10-22","k":"up","o":1.6667,"h":1.6992,"l":1.655,"c":1.6849},{"t":"2017-10-29","k":"dn","o":1.6849,"h":1.7161,"l":1.6667,"c":1.6693},{"t":"2017-11-05","k":"dn","o":1.681,"h":1.6992,"l":1.6602,"c":1.6628},{"t":"2017-11-12","k":"up","o":1.668,"h":1.694,"l":1.6654,"c":1.6888},{"t":"2017-11-19","k":"dn","o":1.6940,"h":1.7044,"l":1.6836,"c":1.6875},{"t":"2017-11-26","k":"g","o":1.6927,"h":1.7461,"l":1.6914,"c":1.7161},{"t":"2017-12-03","k":"up","o":1.7148,"h":1.7383,"l":1.7122,"c":1.7221},{"t":"2017-12-10","k":"dn","o":1.7221,"h":1.7292,"l":1.7018,"c":1.7148},{"t":"2017-12-17","k":"dn","o":1.7148,"h":1.7227,"l":1.694,"c":1.6966},{"t":"2017-12-24","k":"up","o":1.6953,"h":1.7070,"l":1.6914,"c":1.7044},{"t":"2017-12-31","k":"dn","o":1.6953,"h":1.7005,"l":1.6745,"c":1.6815},{"t":"2018-01-07","k":"up","o":1.6815,"h":1.7175,"l":1.6771,"c":1.7109},{"t":"2018-01-14","k":"up","o":1.7109,"h":1.7357,"l":1.7044,"c":1.7344},{"t":"2018-01-21","k":"up","o":1.7344,"h":1.7643,"l":1.7292,"c":1.7422},{"t":"2018-01-28","k":"up","o":1.7422,"h":1.7565,"l":1.7331,"c":1.7544},{"t":"2018-02-04","k":"p","o":1.7539,"h":1.7591,"l":1.7383,"c":1.7396},{"t":"2018-02-11","k":"up","o":1.7396,"h":1.763,"l":1.737,"c":1.7617},{"t":"2018-02-18","k":"up","o":1.7617,"h":1.7826,"l":1.7604,"c":1.7669},{"t":"2018-02-25","k":"up","o":1.7656,"h":1.7813,"l":1.7617,"c":1.7787},{"t":"2018-03-04","k":"up","o":1.77772,"h":1.80082,"l":1.77708,"c":1.79185}
],
"ma":[
{"t":"2010-02-28","f":1.625,"s":1.6602},{"t":"2010-03-21","f":1.5755,"s":1.6159},{"t":"2010-04-11","f":1.5555,"s":1.5912},{"t":"2010-05-02","f":1.5513,"s":1.5748},{"t":"2010-05-23","f":1.5339,"s":1.5573},{"t":"2010-06-13","f":1.5222,"s":1.543},{"t":"2010-07-04","f":1.5539,"s":1.556},{"t":"2010-07-25","f":1.5886,"s":1.5768},{"t":"2010-08-15","f":1.6138,"s":1.5946},{"t":"2010-09-05","f":1.6081,"s":1.5977},{"t":"2010-09-26","f":1.6128,"s":1.6034},{"t":"2010-10-17","f":1.6146,"s":1.6065},{"t":"2010-11-07","f":1.6211,"s":1.6138},{"t":"2010-11-28","f":1.6068,"s":1.6068},{"t":"2010-12-19","f":1.5847,"s":1.593},{"t":"2011-01-09","f":1.567,"s":1.5808},{"t":"2011-01-30","f":1.5808,"s":1.5821},{"t":"2011-02-20","f":1.5834,"s":1.5834},{"t":"2011-03-13","f":1.5826,"s":1.5815},{"t":"2011-04-03","f":1.5711,"s":1.5755},{"t":"2011-04-24","f":1.5711,"s":1.5742},{"t":"2011-05-15","f":1.5748,"s":1.5742},{"t":"2011-06-05","f":1.5893,"s":1.5841},{"t":"2011-06-26","f":1.5755,"s":1.5789},{"t":"2011-07-17","f":1.5578,"s":1.5664},{"t":"2011-08-07","f":1.5834,"s":1.5768},{"t":"2011-08-28","f":1.5964,"s":1.5873},{"t":"2011-09-18","f":1.5852,"s":1.586},{"t":"2011-10-09","f":1.5995,"s":1.593},{"t":"2011-10-30","f":1.6055,"s":1.6016},{"t":"2011-11-20","f":1.6138,"s":1.6063},{"t":"2011-12-11","f":1.6042,"s":1.6042},{"t":"2012-01-01","f":1.5912,"s":1.5964},{"t":"2012-01-22","f":1.5802,"s":1.5873},{"t":"2012-02-12","f":1.5781,"s":1.5841},{"t":"2012-03-04","f":1.5703,"s":1.5774},{"t":"2012-03-25","f":1.5795,"s":1.58},{"t":"2012-04-15","f":1.5834,"s":1.5834},{"t":"2012-05-06","f":1.599,"s":1.5925},{"t":"2012-05-27","f":1.6037,"s":1.5964},{"t":"2012-06-17","f":1.5998,"s":1.5964},{"t":"2012-07-08","f":1.5899,"s":1.5925},{"t":"2012-07-29","f":1.5808,"s":1.586},{"t":"2012-08-19","f":1.567,"s":1.5768},{"t":"2012-09-09","f":1.5716,"s":1.5737},{"t":"2012-09-30","f":1.5768,"s":1.5781},{"t":"2012-10-21","f":1.5873,"s":1.5847},{"t":"2012-11-11","f":1.5893,"s":1.586},{"t":"2012-12-02","f":1.5886,"s":1.5878},{"t":"2012-12-23","f":1.5964,"s":1.593},{"t":"2013-01-13","f":1.5886,"s":1.5878},{"t":"2013-02-03","f":1.5834,"s":1.5852},{"t":"2013-02-24","f":1.5612,"s":1.5716},{"t":"2013-03-17","f":1.5529,"s":1.5633},{"t":"2013-04-07","f":1.5547,"s":1.5599},{"t":"2013-04-28","f":1.5638,"s":1.5638},{"t":"2013-05-19","f":1.5625,"s":1.5625},{"t":"2013-06-09","f":1.5781,"s":1.5729},{"t":"2013-06-30","f":1.586,"s":1.5795},{"t":"2013-07-21","f":1.5815,"s":1.5795},{"t":"2013-08-11","f":1.5977,"s":1.5912},{"t":"2013-09-01","f":1.6289,"s":1.6055},{"t":"2013-09-22","f":1.642,"s":1.6211},{"t":"2013-10-13","f":1.6511,"s":1.6341},{"t":"2013-11-03","f":1.6641,"s":1.6472},{"t":"2013-11-24","f":1.6888,"s":1.6706},{"t":"2013-12-15","f":1.7201,"s":1.7005},{"t":"2014-01-05","f":1.7539,"s":1.7227},{"t":"2014-01-26","f":1.7891,"s":1.7578},{"t":"2014-02-16","f":1.8229,"s":1.7878},{"t":"2014-03-09","f":1.8359,"s":1.8125},{"t":"2014-03-30","f":1.8359,"s":1.8177},{"t":"2014-04-20","f":1.8411,"s":1.8289},{"t":"2014-05-11","f":1.8411,"s":1.832},{"t":"2014-06-01","f":1.8346,"s":1.8294},{"t":"2014-06-22","f":1.8294,"s":1.8307},{"t":"2014-07-13","f":1.832,"s":1.8294},{"t":"2014-08-03","f":1.8352,"s":1.8328},{"t":"2014-08-24","f":1.819,"s":1.8203},{"t":"2014-09-14","f":1.8034,"s":1.8117},{"t":"2014-10-05","f":1.8029,"s":1.8107},{"t":"2014-10-26","f":1.8055,"s":1.8091},{"t":"2014-11-16","f":1.7852,"s":1.7977},{"t":"2014-12-07","f":1.7904,"s":1.7969},{"t":"2014-12-28","f":1.8008,"s":1.8008},{"t":"2015-01-18","f":1.819,"s":1.8099},{"t":"2015-02-08","f":1.875,"s":1.848},{"t":"2015-03-01","f":1.8984,"s":1.8737},{"t":"2015-03-22","f":1.888,"s":1.875},{"t":"2015-04-12","f":1.8659,"s":1.862},{"t":"2015-05-03","f":1.8594,"s":1.8594},{"t":"2015-05-24","f":1.8776,"s":1.8737},{"t":"2015-06-14","f":1.9024,"s":1.8854},{"t":"2015-07-05","f":1.9362,"s":1.9115},{"t":"2015-07-26","f":1.9948,"s":1.9505},{"t":"2015-08-16","f":2.03,"s":1.9909},{"t":"2015-09-06","f":2.0326,"s":2.0078},{"t":"2015-09-27","f":2.0287,"s":2.013},{"t":"2015-10-18","f":2.0117,"s":2.0078},{"t":"2015-11-08","f":2.011,"s":2.0117},{"t":"2015-11-29","f":2.0169,"s":2.0156},{"t":"2015-12-20","f":2.0508,"s":2.0352},{"t":"2016-01-10","f":2.0586,"s":2.0451},{"t":"2016-01-31","f":2.0365,"s":2.0365},{"t":"2016-02-21","f":2.004,"s":2.0195},{"t":"2016-03-13","f":1.9284,"s":1.9596},{"t":"2016-04-03","f":1.888,"s":1.9297},{"t":"2016-04-24","f":1.8549,"s":1.8958},{"t":"2016-05-15","f":1.8685,"s":1.8867},{"t":"2016-06-05","f":1.862,"s":1.8794},{"t":"2016-06-26","f":1.819,"s":1.8424},{"t":"2016-07-17","f":1.7534,"s":1.7942},{"t":"2016-08-07","f":1.7252,"s":1.766},{"t":"2016-08-28","f":1.7135,"s":1.7448},{"t":"2016-09-18","f":1.7148,"s":1.7336},{"t":"2016-10-09","f":1.6705,"s":1.7057},{"t":"2016-10-30","f":1.6614,"s":1.6836},{"t":"2016-11-20","f":1.6705,"s":1.6841},{"t":"2016-12-11","f":1.6687,"s":1.6776},{"t":"2017-01-01","f":1.6523,"s":1.6692},{"t":"2017-01-22","f":1.6419,"s":1.6536},{"t":"2017-02-12","f":1.6349,"s":1.6458},{"t":"2017-03-05","f":1.638,"s":1.6432},{"t":"2017-03-26","f":1.6531,"s":1.651},{"t":"2017-04-16","f":1.6784,"s":1.6705},{"t":"2017-05-07","f":1.7304,"s":1.7057},{"t":"2017-05-28","f":1.7344,"s":1.7135},{"t":"2017-06-18","f":1.7122,"s":1.7083},{"t":"2017-07-09","f":1.6862,"s":1.6927},{"t":"2017-07-30","f":1.6588,"s":1.6758},{"t":"2017-08-20","f":1.6393,"s":1.6562},{"t":"2017-09-10","f":1.6289,"s":1.6445},{"t":"2017-10-01","f":1.6484,"s":1.6503},{"t":"2017-10-22","f":1.6602,"s":1.6581},{"t":"2017-11-12","f":1.668,"s":1.6622},{"t":"2017-12-03","f":1.6953,"s":1.6836},{"t":"2017-12-24","f":1.7005,"s":1.6888},{"t":"2018-01-14","f":1.7109,"s":1.6966},{"t":"2018-02-04","f":1.7305,"s":1.7175},{"t":"2018-02-25","f":1.7513,"s":1.7331},{"t":"2018-03-04","f":1.7622,"s":1.7409}
],
"band":[
{"t":"2010-02-28","u":1.7745,"m":1.7432,"d":1.7135},{"t":"2010-03-28","u":1.7487,"m":1.7167,"d":1.6823},{"t":"2010-04-25","u":1.7213,"m":1.6901,"d":1.6588},{"t":"2010-05-23","u":1.6924,"m":1.6628,"d":1.6354},{"t":"2010-06-13","u":1.6721,"m":1.6471,"d":1.6237},{"t":"2010-07-04","u":1.6659,"m":1.6393,"d":1.6159},{"t":"2010-08-01","u":1.6596,"m":1.6354,"d":1.6104},{"t":"2010-09-12","u":1.6549,"m":1.6315,"d":1.6065},{"t":"2010-10-24","u":1.651,"m":1.6292,"d":1.6057},{"t":"2010-11-21","u":1.6456,"m":1.6253,"d":1.6018},{"t":"2010-12-19","u":1.6393,"m":1.6174,"d":1.5956},{"t":"2011-01-16","u":1.6315,"m":1.6096,"d":1.5909},{"t":"2011-02-27","u":1.6237,"m":1.6042,"d":1.5831},{"t":"2011-04-10","u":1.6159,"m":1.5971,"d":1.5784},{"t":"2011-05-22","u":1.6112,"m":1.5924,"d":1.5737},{"t":"2011-07-03","u":1.6096,"m":1.5909,"d":1.5721},{"t":"2011-07-31","u":1.6026,"m":1.5862,"d":1.5667},{"t":"2011-09-11","u":1.6065,"m":1.5909,"d":1.569},{"t":"2011-10-23","u":1.612,"m":1.594,"d":1.5706},{"t":"2011-12-04","u":1.612,"m":1.5963,"d":1.5729},{"t":"2012-01-15","u":1.6096,"m":1.5932,"d":1.5753},{"t":"2012-02-26","u":1.6057,"m":1.5901,"d":1.5753},{"t":"2012-04-08","u":1.6018,"m":1.5901,"d":1.5713},{"t":"2012-05-20","u":1.6026,"m":1.5909,"d":1.5721},{"t":"2012-07-01","u":1.6018,"m":1.5901,"d":1.5737},{"t":"2012-08-12","u":1.6003,"m":1.587,"d":1.5745},{"t":"2012-09-23","u":1.5979,"m":1.587,"d":1.576},{"t":"2012-11-04","u":1.5987,"m":1.5885,"d":1.5768},{"t":"2012-12-16","u":1.5979,"m":1.5893,"d":1.5768},{"t":"2013-01-27","u":1.5948,"m":1.587,"d":1.5753},{"t":"2013-03-10","u":1.5885,"m":1.5799,"d":1.5674},{"t":"2013-04-21","u":1.5862,"m":1.5737,"d":1.562},{"t":"2013-06-02","u":1.5862,"m":1.5729,"d":1.5612},{"t":"2013-07-14","u":1.587,"m":1.5745,"d":1.5635},{"t":"2013-08-25","u":1.5924,"m":1.5823,"d":1.5674},{"t":"2013-09-22","u":1.6042,"m":1.5917,"d":1.5753},{"t":"2013-10-20","u":1.6159,"m":1.6034,"d":1.5862},{"t":"2013-11-17","u":1.6299,"m":1.6143,"d":1.6003},{"t":"2013-12-15","u":1.6487,"m":1.6315,"d":1.6143},{"t":"2014-01-12","u":1.6745,"m":1.6549,"d":1.6346},{"t":"2014-02-09","u":1.7018,"m":1.6792,"d":1.6573},{"t":"2014-03-09","u":1.7213,"m":1.7034,"d":1.6823},{"t":"2014-04-06","u":1.7424,"m":1.7253,"d":1.7057},{"t":"2014-05-04","u":1.7604,"m":1.7432,"d":1.7253},{"t":"2014-06-01","u":1.7737,"m":1.7565,"d":1.7393},{"t":"2014-06-29","u":1.7854,"m":1.7674,"d":1.7503},{"t":"2014-07-27","u":1.7917,"m":1.7776,"d":1.7627},{"t":"2014-08-24","u":1.7971,"m":1.7823,"d":1.7682},{"t":"2014-10-05","u":1.801,"m":1.7862,"d":1.7721},{"t":"2014-11-16","u":1.8042,"m":1.7885,"d":1.7737},{"t":"2014-12-28","u":1.8057,"m":1.7901,"d":1.776},{"t":"2015-01-18","u":1.8128,"m":1.7971,"d":1.7784},{"t":"2015-02-08","u":1.8268,"m":1.8096,"d":1.7893},{"t":"2015-03-01","u":1.8385,"m":1.8221,"d":1.8034},{"t":"2015-03-29","u":1.8463,"m":1.8284,"d":1.8112},{"t":"2015-04-19","u":1.8479,"m":1.8307,"d":1.8112},{"t":"2015-05-17","u":1.8721,"m":1.8526,"d":1.8307},{"t":"2015-06-14","u":1.8893,"m":1.8682,"d":1.8463},{"t":"2015-07-12","u":1.9034,"m":1.8799,"d":1.8581},{"t":"2015-08-09","u":1.919,"m":1.8948,"d":1.8721},{"t":"2015-09-06","u":1.9362,"m":1.9151,"d":1.8932},{"t":"2015-09-27","u":1.9463,"m":1.9276,"d":1.9065},{"t":"2015-11-01","u":1.9581,"m":1.9393,"d":1.919},{"t":"2015-11-29","u":1.9674,"m":1.951,"d":1.9323},{"t":"2015-12-27","u":1.987,"m":1.9698,"d":1.9495},{"t":"2016-01-17","u":1.9971,"m":1.9792,"d":1.9581},{"t":"2016-02-14","u":2.001,"m":1.9831,"d":1.962},{"t":"2016-03-06","u":1.9987,"m":1.9776,"d":1.9518},{"t":"2016-04-03","u":1.9854,"m":1.9542,"d":1.9401},{"t":"2016-05-01","u":1.9768,"m":1.9401,"d":1.9299},{"t":"2016-05-29","u":1.9612,"m":1.9315,"d":1.9221},{"t":"2016-06-19","u":1.9495,"m":1.9167,"d":1.9073},{"t":"2016-07-17","u":1.9206,"m":1.8909,"d":1.8776},{"t":"2016-08-14","u":1.8893,"m":1.862,"d":1.8385},{"t":"2016-09-11","u":1.8659,"m":1.8385,"d":1.819},{"t":"2016-10-09","u":1.8424,"m":1.8167,"d":1.7917},{"t":"2016-11-06","u":1.819,"m":1.7917,"d":1.7706},{"t":"2016-12-04","u":1.7979,"m":1.7745,"d":1.7526},{"t":"2017-01-01","u":1.7815,"m":1.7565,"d":1.7276},{"t":"2017-01-29","u":1.7643,"m":1.737,"d":1.7096},{"t":"2017-02-26","u":1.7448,"m":1.7229,"d":1.6995},{"t":"2017-03-26","u":1.7331,"m":1.712,"d":1.694},{"t":"2017-04-30","u":1.7331,"m":1.7135,"d":1.6956},{"t":"2017-05-28","u":1.737,"m":1.7174,"d":1.7003},{"t":"2017-06-25","u":1.7331,"m":1.7151,"d":1.6956},{"t":"2017-07-23","u":1.7213,"m":1.7042,"d":1.6846},{"t":"2017-08-20","u":1.7096,"m":1.6924,"d":1.6721},{"t":"2017-09-17","u":1.7018,"m":1.6838,"d":1.6651},{"t":"2017-10-15","u":1.6995,"m":1.6807,"d":1.6628},{"t":"2017-11-12","u":1.7003,"m":1.6799,"d":1.6628},{"t":"2017-12-10","u":1.7042,"m":1.6862,"d":1.6651},{"t":"2018-01-07","u":1.7057,"m":1.6901,"d":1.669},{"t":"2018-02-04","u":1.7135,"m":1.6979,"d":1.6784},{"t":"2018-03-04","u":1.7229,"m":1.7073,"d":1.6901}
],
"years":[{"t":"2011-01-02"},{"t":"2012-01-01"},{"t":"2012-12-30"},{"t":"2014-01-05"},{"t":"2015-01-04"},{"t":"2016-01-03"},{"t":"2017-01-01"},{"t":"2018-01-07"},{"t":"2019-01-06"}],
"fibo":[
{"t":"2015-01-04","e":"2018-06-15","p":2.09669,"n":"0.0 @ 2.09669"},{"t":"2015-01-04","e":"2018-06-15","p":2.0211,"n":"23.6 @ 2.02110"},{"t":"2015-01-04","e":"2018-06-15","p":1.97434,"n":"38.2 @ 1.97434"},{"t":"2015-01-04","e":"2018-06-15","p":1.93654,"n":"50.0 @ 1.93654"},{"t":"2015-01-04","e":"2018-06-15","p":1.89875,"n":"61.8 @ 1.89875"},{"t":"2015-01-04","e":"2018-06-15","p":1.84494,"n":"78.6 @ 1.84494"},{"t":"2015-01-04","e":"2018-06-15","p":1.7764,"n":"100.0 @ 1.77640"},{"t":"2015-01-04","e":"2018-06-15","p":1.68928,"n":"127.2 @ 1.68928"},{"t":"2015-01-04","e":"2018-06-15","p":1.6438,"n":"141.4 @ 1.64380"},{"t":"2015-01-04","e":"2018-06-15","p":1.57846,"n":"161.8 @ 1.57846"}],
"fe":[
{"t":"2013-03-10","e":"2019-02-13T12:00:00Z","a":"2019-02-11","p":2.0953,"n":"FE 100.0"},{"t":"2013-03-10","e":"2019-02-13T12:00:00Z","a":"2019-02-11","p":1.9651,"n":"FE 61.8"},{"t":"2010-05-09","e":"2015-03-22","a":"2014-01-10","p":1.9557,"n":"FE 261.8"},{"t":"2010-05-09","e":"2015-02-15","a":"2014-01-10","p":1.8549,"n":"FE 200"},{"t":"2010-05-09","e":"2014-01-10","a":"2014-01-10","p":1.7924,"n":"FE 161.8"},{"t":"2010-05-09","e":"2015-02-08","a":"2014-01-10","p":1.7596,"n":"FE 141.4"},{"t":"2010-05-09","e":"2014-01-10","a":"2014-01-10","p":1.6917,"n":"FE 100.0"},{"t":"2010-05-09","e":"2014-01-10","a":"2014-01-10","p":1.6299,"n":"FE 61.8"}],
"dots":[
{"id":"a","t":"2010-05-09","p":1.4831},{"id":"a","t":"2010-08-29","p":1.6463},{"id":"a","t":"2011-01-02","p":1.5323},{"id":"b","t":"2013-03-10","p":1.5245},{"id":"b","t":"2014-02-16","p":1.8667},{"id":"b","t":"2014-08-31","p":1.7573},{"id":"c","t":"2015-01-04","p":1.7784},{"id":"c","t":"2015-05-10","p":2.0963}],
"notes":[
{"id":"n1","t":"2011-01-16","p":1.5284},{"id":"n1","t":"2012-01-29","p":1.5057},{"id":"n2","t":"2012-10-21","p":1.5135},{"id":"n2","t":"2013-03-03","p":1.5213},{"id":"n3","t":"2015-05-10","p":2.0753},{"id":"n3","t":"2015-06-14","p":2.1096}],
"arrow":[
{"id":"s","t":"2010-12-26","p":2.019},{"id":"s","t":"2012-01-15","p":2.019},{"id":"l1","t":"2011-01-09","p":2.0245},{"id":"l1","t":"2010-12-26","p":2.019},{"id":"l1","t":"2011-01-09","p":2.0135},{"id":"l2","t":"2012-01-01","p":2.0245},{"id":"l2","t":"2012-01-15","p":2.019},{"id":"l2","t":"2012-01-01","p":2.0135}],
"words":[{"t":"2011-05-15","p":2.0307,"n":"un anno"},{"t":"2015-06-21","p":2.112,"n":"Fibo del 2013"},{"t":"2012-02-15","p":1.5135,"n":"…e due estensioni"},{"t":"2012-02-15","p":1.4963,"n":"Fibonacci"}],
"rings1":[{"t":"2013-12-15","p":1.8596},{"t":"2013-12-01","p":1.7635},{"t":"2015-10-11","p":1.9768}],
"rings2":[{"t":"2019-01-06","p":2.1},{"t":"2013-12-01","p":1.9604},{"t":"2017-04-30","p":1.7792},{"t":"2017-01-08","p":1.5768}],
"head":[{"t":"2010-03-26","p":2.1221,"n":"GBPCAD,Weekly  1.77772 1.80082 1.77708 1.79185"}],
"tri":[{"t":"2010-03-10","p":2.1221}],
"pvabox":[{"t":"2018-11-15","e":"2019-02-13T12:00:00Z","a":2.1284,"b":2.1182}],
"pva":[{"t":"2019-01-13","p":2.1237,"n":"PVA"}],
"led":[{"t":"2019-01-27","p":2.1237}],
"last":[{"t":"2019-02-13T12:00:00Z","p":1.79185,"n":"1.79185"}]
},
"encoding":{"x":{"field":"t","type":"temporal","scale":{"type":"utc","domain":["2010-02-26T06:00:00Z","2019-02-13T12:00:00Z"],"nice":false,"padding":0},
"axis":{"title":null,"grid":false,"orient":"bottom","tickCount":40,"values":["2010-02-28","2010-06-20","2010-10-10","2011-01-30","2011-05-22","2011-09-11","2012-01-01","2012-04-22","2012-08-12","2012-12-02","2013-03-24","2013-07-14","2013-11-03","2014-02-23","2014-06-15","2014-10-05","2015-01-25","2015-05-17","2015-09-06","2015-12-27","2016-04-17","2016-08-07","2016-11-27","2017-03-19","2017-07-09","2017-10-29","2018-02-18"],"format":"%-d %b %Y","labelAlign":"left","labelBaseline":"top","labelFont":"Liberation Sans","labelFontSize":9.5,"labelColor":"#e8e8e8","labelPadding":0,"labelOverlap":false,"labelFlush":false,"labelBound":false,"tickColor":"#ffffff","tickSize":5,"domainColor":"#ffffff"}}},
"layer":[
{"data":{"name":"years"},"mark":{"type":"rule","color":"#ffffff","strokeWidth":1,"strokeDash":[3,3]},"encoding":{}},
{"data":{"name":"pvabox"},"mark":{"type":"rect","color":"#141414"},"encoding":{"x2":{"field":"e"},"y":{"field":"a","type":"quantitative","title":null,"scale":{"domain":[1.46744,2.12916],"nice":false,"zero":false},"axis":{"title":null,"orient":"right","grid":false,"tickCount":40,"values":[2.1143,2.0888,2.06255,2.03705,2.0108,1.9853,1.9598,1.93355,1.90805,1.88255,1.8563,1.8308,1.80455,1.77905,1.75355,1.7273,1.7018,1.6763,1.65005,1.62455,1.5983,1.5728,1.5473,1.52105,1.49555,1.47005],"format":".5f","labelFont":"Liberation Sans","labelFontSize":9.5,"labelColor":"#e8e8e8","labelPadding":3,"labelOverlap":false,"labelBound":false,"labelFlush":false,"tickColor":"#ffffff","tickSize":3,"domainColor":"#ffffff"}},"y2":{"field":"b"}}},
{"data":{"name":"band"},"mark":{"type":"area","color":"#1e2249","opacity":1},"encoding":{"y":{"field":"u","type":"quantitative"},"y2":{"field":"d"}}},
{"data":{"name":"band"},"mark":{"type":"line","color":"#262a5a","strokeWidth":3},"encoding":{"y":{"field":"u","type":"quantitative"}}},
{"data":{"name":"band"},"mark":{"type":"line","color":"#262a5a","strokeWidth":3},"encoding":{"y":{"field":"d","type":"quantitative"}}},
{"data":{"name":"band"},"mark":{"type":"line","color":"#17171d","strokeWidth":5},"encoding":{"y":{"field":"m","type":"quantitative"}}},
{"data":{"name":"band"},"mark":{"type":"line","color":"#5874c8","strokeWidth":1},"encoding":{"y":{"field":"m","type":"quantitative"}}},
{"data":{"name":"candles"},"mark":{"type":"rule","color":"#8c8c8c","strokeWidth":1},"encoding":{"y":{"field":"h","type":"quantitative"},"y2":{"field":"l"}}},
{"data":{"name":"candles"},"mark":{"type":"bar","size":3},"encoding":{"y":{"field":"o","type":"quantitative"},"y2":{"field":"c"},"color":{"field":"k","type":"nominal","legend":null,"scale":{"domain":["up","dn","g","r","b","p"],"range":["#a6a6a6","#646469","#1db440","#e60a14","#1e8cff","#a020f0"]}}}},
{"data":{"name":"ma"},"mark":{"type":"line","color":"#1fb2b2","strokeWidth":3},"encoding":{"y":{"field":"s","type":"quantitative"}}},
{"data":{"name":"ma"},"mark":{"type":"line","color":"#a0cc30","strokeWidth":2},"encoding":{"y":{"field":"f","type":"quantitative"}}},
{"data":{"name":"dots"},"mark":{"type":"line","color":"#ff0000","strokeWidth":1,"strokeDash":[2,3]},"encoding":{"y":{"field":"p","type":"quantitative"},"detail":{"field":"id"}}},
{"data":{"name":"fe"},"mark":{"type":"rule","color":"#3a66d8","strokeWidth":1},"encoding":{"x2":{"field":"e"},"y":{"field":"p","type":"quantitative"}}},
{"data":{"name":"fibo"},"mark":{"type":"rule","color":"#1e8cff","strokeWidth":1},"encoding":{"x2":{"field":"e"},"y":{"field":"p","type":"quantitative"}}},
{"data":{"name":"fibo"},"mark":{"type":"text","color":"#1e8cff","align":"right","baseline":"bottom","font":"Liberation Sans","fontSize":9.2,"dy":-1},"encoding":{"x":{"field":"e","type":"temporal"},"y":{"field":"p","type":"quantitative"},"text":{"field":"n"}}},
{"data":{"name":"fe"},"mark":{"type":"text","color":"#2f58c8","align":"right","baseline":"bottom","font":"Liberation Sans","fontSize":10,"dy":-2},"encoding":{"x":{"field":"a","type":"temporal"},"y":{"field":"p","type":"quantitative"},"text":{"field":"n"}}},
{"data":{"name":"notes"},"mark":{"type":"line","color":"#22a84a","strokeWidth":1},"encoding":{"y":{"field":"p","type":"quantitative"},"detail":{"field":"id"}}},
{"data":{"name":"arrow"},"mark":{"type":"line","color":"#22b14c","strokeWidth":2.5},"encoding":{"y":{"field":"p","type":"quantitative"},"detail":{"field":"id"}}},
{"data":{"name":"words"},"mark":{"type":"text","color":"#1fa346","align":"left","baseline":"middle","font":"DejaVu Sans","fontSize":13.5},"encoding":{"y":{"field":"p","type":"quantitative"},"text":{"field":"n"}}},
{"data":{"name":"rings1"},"mark":{"type":"point","shape":"M-1,0A1,0.5 0 1,1 1,0A1,0.5 0 1,1 -1,0Z","size":1764,"filled":false,"color":"#22a84a","strokeWidth":1,"opacity":1},"encoding":{"y":{"field":"p","type":"quantitative"}}},
{"data":{"name":"rings2"},"mark":{"type":"point","shape":"M-1,0A1,0.47 0 1,1 1,0A1,0.47 0 1,1 -1,0Z","size":3136,"filled":false,"color":"#22a84a","strokeWidth":1,"opacity":1},"encoding":{"y":{"field":"p","type":"quantitative"}}},
{"data":{"name":"tri"},"mark":{"type":"point","shape":"triangle-down","size":30,"filled":true,"color":"#ffffff","opacity":1},"encoding":{"y":{"field":"p","type":"quantitative"}}},
{"data":{"name":"head"},"mark":{"type":"text","color":"#f0f0f0","align":"left","baseline":"middle","font":"Liberation Sans","fontSize":9.5},"encoding":{"y":{"field":"p","type":"quantitative"},"text":{"field":"n"}}},
{"data":{"name":"pva"},"mark":{"type":"text","color":"#8c8c8c","align":"right","baseline":"middle","font":"Liberation Sans","fontSize":10.5},"encoding":{"y":{"field":"p","type":"quantitative"},"text":{"field":"n"}}},
{"data":{"name":"led"},"mark":{"type":"point","shape":"circle","size":70,"filled":true,"color":"#00ff00","opacity":1},"encoding":{"y":{"field":"p","type":"quantitative"}}},
{"data":{"name":"last"},"mark":{"type":"rule","color":"#ffffff","strokeWidth":11,"xOffset":2,"x2Offset":42,"clip":false},"encoding":{"x2":{"field":"t"},"y":{"field":"p","type":"quantitative"}}},
{"data":{"name":"last"},"mark":{"type":"text","color":"#000000","align":"left","baseline":"middle","font":"Liberation Sans","fontSize":9.5,"dx":5},"encoding":{"y":{"field":"p","type":"quantitative"},"text":{"field":"n"}}}
]}
